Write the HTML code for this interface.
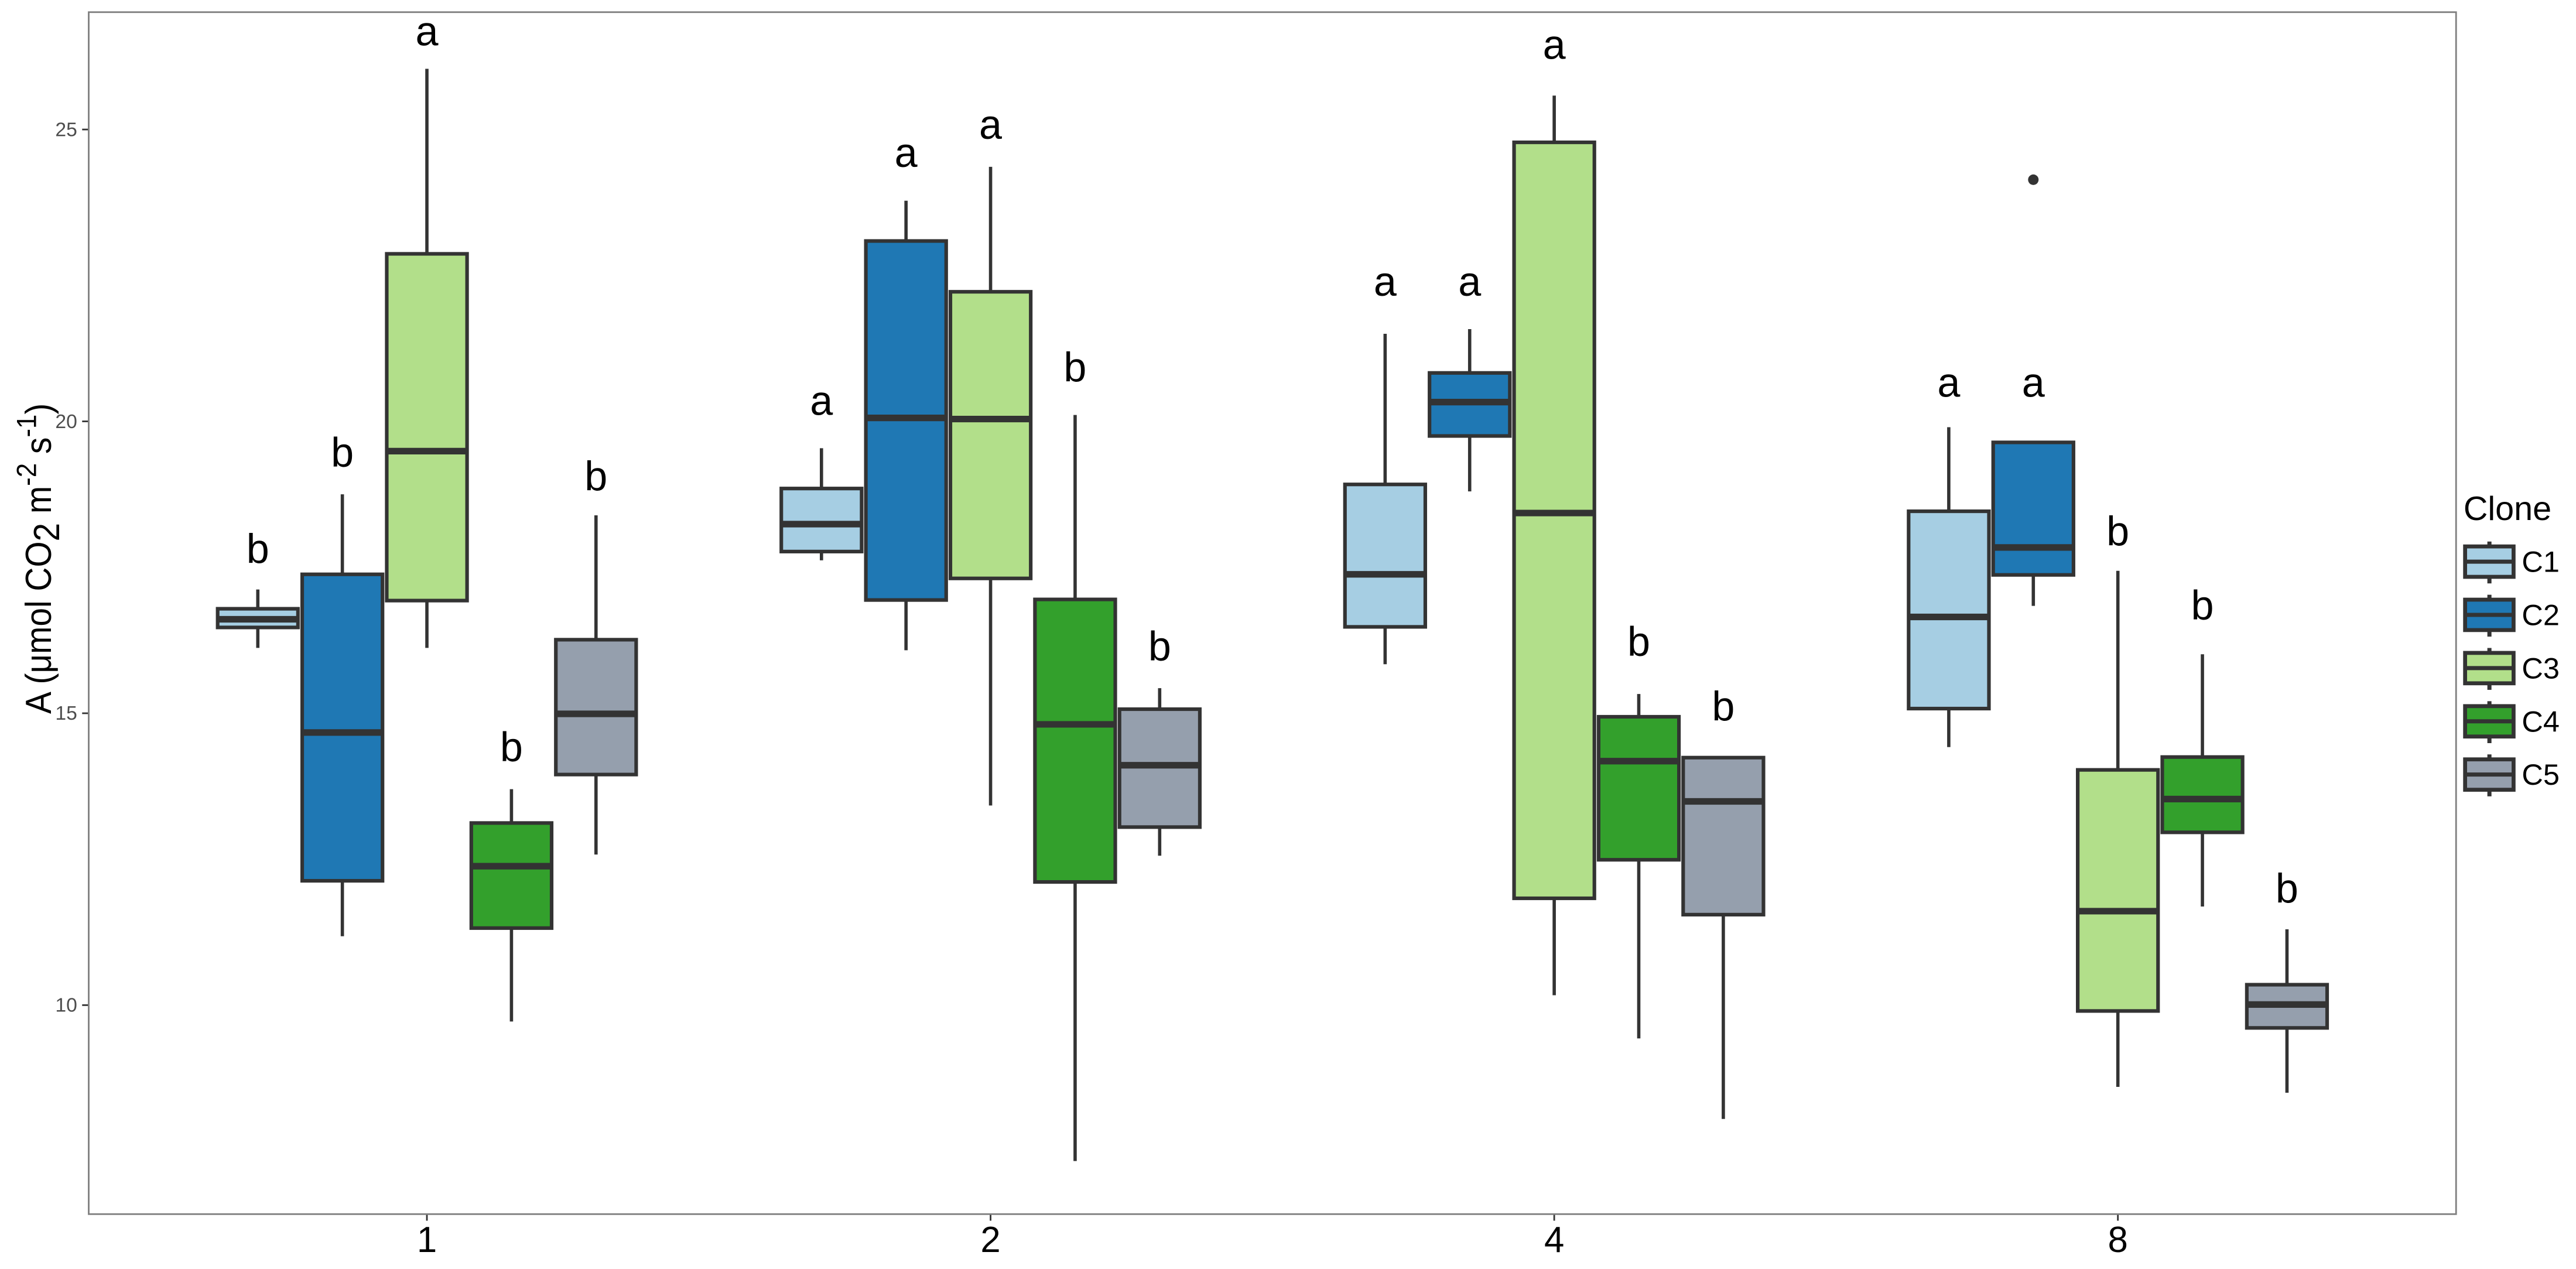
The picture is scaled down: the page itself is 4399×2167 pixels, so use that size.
<!DOCTYPE html>
<html><head><meta charset="utf-8"><style>
html,body{margin:0;padding:0;background:#fff;}
svg{display:block;font-family:"Liberation Sans",Arial,sans-serif;}
</style></head><body>
<svg id="chart" width="4399" height="2167" viewBox="0 0 1568 772.4" preserveAspectRatio="none" xmlns="http://www.w3.org/2000/svg">
<rect x="0" y="0" width="1568" height="772.4" fill="#fff"/>
<g id="plot"></g>
<text transform="translate(31,340) rotate(-90)" text-anchor="middle" font-size="22" fill="#000" textLength="189" lengthAdjust="spacingAndGlyphs">A (μmol CO<tspan dy="5">2</tspan><tspan dy="-5"> m</tspan><tspan font-size="17" dy="-9">-2</tspan><tspan dy="9"> s</tspan><tspan font-size="17" dy="-9">-1</tspan><tspan dy="9">)</tspan></text>
<g id="legend">
<text x="1499.5" y="316.5" font-size="20.5" fill="#000">Clone</text>
</g>
</svg>
<script>
const groups = ['1','2','4','8'];
const clones = ['C1','C2','C3','C4','C5'];
const colors = ['#a6cee3','#1f78b4','#b2df8a','#33a02c','#959fad'];
const yTicks = [10,15,20,25];
// per clone arrays indexed by group: [min, q1, median, q3, max]
const minV  = [[16.12,17.62,15.84,14.42],[11.18,16.08,18.80,16.84],[16.12,13.42,10.17,8.60],[9.72,7.33,9.43,11.69],[12.58,12.56,8.05,8.50]];
const q1V   = [[16.47,17.77,16.48,15.08],[12.13,16.94,19.75,17.37],[16.93,17.31,11.83,9.90],[11.32,12.11,12.49,12.96],[13.95,13.05,11.55,9.61]];
const medV  = [[16.61,18.24,17.38,16.65],[14.67,20.06,20.33,17.84],[19.49,20.04,18.43,11.61],[12.38,14.81,14.18,13.53],[14.99,14.11,13.49,10.01]];
const q3V   = [[16.79,18.85,18.92,18.46],[17.38,23.09,20.83,19.64],[22.87,22.22,24.78,14.03],[13.12,16.95,14.94,14.25],[16.26,15.07,14.24,10.35]];
const maxV  = [[17.12,19.54,21.50,19.90],[18.75,23.78,21.58,19.64],[26.04,24.36,25.58,17.44],[13.70,20.11,15.33,16.01],[18.39,15.43,14.24,11.30]];
const outliers = [{clone:1, group:3, value:24.14}];
const letters = [['b','a','a','a'],['b','a','a','a'],['a','a','a','b'],['b','b','b','b'],['b','b','b','b']];
const letterY = [[17.58,20.11,22.15,20.42],[19.23,24.36,22.15,20.42],[26.44,24.84,26.21,17.88],[14.18,20.69,15.99,16.61],[18.82,15.91,14.88,11.76]];

const NS='http://www.w3.org/2000/svg';
const L=54, R=1495, T=7.4, B=739;
const yMin=6.42, yMax=27.01;
function y(v){return B-(v-yMin)/(yMax-yMin)*(B-T);}
const step=(R-L)/(groups.length+0.2);
function xg(i){return L+(0.6+i)*step;}
const dodge=step*0.15;
function xc(g,c){return xg(g)+(c-2)*dodge;}
const bw=dodge*0.95;
function mk(tag,attrs,parent){const e=document.createElementNS(NS,tag);for(const k in attrs)e.setAttribute(k,attrs[k]);parent.appendChild(e);return e;}
const plot=document.getElementById('plot');
const dark='#333333';

yTicks.forEach(t=>{
  const ln=mk('line',{x1:L-4,x2:L,y1:y(t),y2:y(t),stroke:'#333','stroke-width':1},plot);
  
  
  const tx=mk('text',{x:L-7,y:y(t)+4,'text-anchor':'end','font-size':12,fill:'#4d4d4d'},plot);
  tx.textContent=t;
  
  
});
groups.forEach((g,i)=>{
  const ln=mk('line',{x1:xg(i),x2:xg(i),y1:B,y2:B+4,stroke:'#333','stroke-width':1},plot);
  
  
  const tx=mk('text',{x:xg(i),y:B+23,'text-anchor':'middle','font-size':22,fill:'#000'},plot);
  tx.textContent=g;
  
  
});
clones.forEach((c,ci)=>{
  groups.forEach((g,gi)=>{
    const gEl=mk('g',{},plot);
    
    
    const x=xc(gi,ci);
    mk('line',{x1:x,x2:x,y1:y(maxV[ci][gi]),y2:y(q3V[ci][gi]),stroke:dark,'stroke-width':2},gEl);
    mk('line',{x1:x,x2:x,y1:y(q1V[ci][gi]),y2:y(minV[ci][gi]),stroke:dark,'stroke-width':2},gEl);
    mk('rect',{x:x-bw/2,y:y(q3V[ci][gi]),width:bw,height:Math.max(0.5,y(q1V[ci][gi])-y(q3V[ci][gi])),fill:colors[ci],stroke:dark,'stroke-width':2.2},gEl);
    mk('line',{x1:x-bw/2,x2:x+bw/2,y1:y(medV[ci][gi]),y2:y(medV[ci][gi]),stroke:dark,'stroke-width':4},gEl);
    const lt=mk('text',{x:x,y:y(letterY[ci][gi]),'text-anchor':'middle','font-size':25,fill:'#000'},plot);
    lt.textContent=letters[ci][gi];
    
    
  });
});
outliers.forEach(o=>{
  const p=mk('circle',{cx:xc(o.group,o.clone),cy:y(o.value),r:3.2,fill:dark},plot);
  
  
});
const border=mk('rect',{x:L,y:T,width:R-L,height:B-T,fill:'none',stroke:'#7f7f7f','stroke-width':1},plot);


const leg=document.getElementById('legend');
clones.forEach((c,i)=>{
  const top=332.6+i*32.4;
  const ge=mk('g',{},leg);
  
  
  mk('line',{x1:1515.3,x2:1515.3,y1:top-3,y2:top+22.5,stroke:dark,'stroke-width':2.5},ge);
  mk('rect',{x:1500.5,y:top,width:29.5,height:18.5,fill:colors[i],stroke:dark,'stroke-width':2.4},ge);
  mk('line',{x1:1500.5,x2:1530,y1:top+9.25,y2:top+9.25,stroke:dark,'stroke-width':2.5},ge);
  const t=mk('text',{x:1535,y:top+15.5,'font-size':18,fill:'#000'},ge);
  t.textContent=c;
});
</script>
</body></html>
